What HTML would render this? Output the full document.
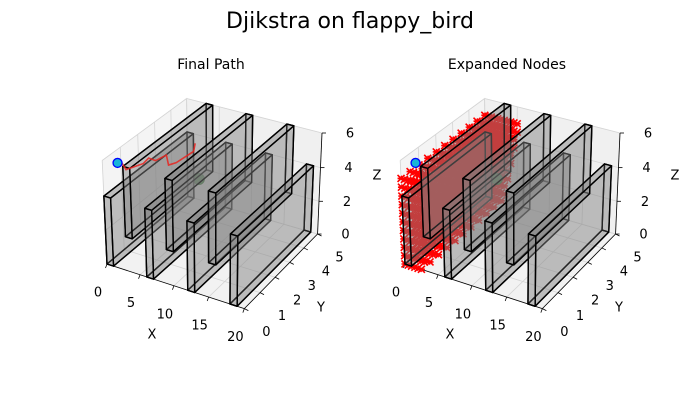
<!DOCTYPE html>
<html><head><meta charset="utf-8"><style>
html,body{margin:0;padding:0;background:#fff;}
svg{display:block;font-family:"DejaVu Sans","Liberation Sans",sans-serif;}
</style></head><body>
<svg id="chart" width="700" height="400" viewBox="0 0 700 400">
<rect width="700" height="400" fill="#fff"/>
<text x="350" y="28" font-size="22" text-anchor="middle" fill="#000">Djikstra on flappy_bird</text>
<text x="211" y="69" font-size="14" text-anchor="middle">Final Path</text>
<text x="507" y="69" font-size="14" text-anchor="middle">Expanded Nodes</text>
<g id="left"></g>
<g id="right"></g>
</svg>
<script>
const xTicks=[0,5,10,15,20];
const yTicks=[0,1,2,3,4,5];
const zTicks=[0,2,4,6];
const wallX=[0,3,6,9,12,15,18];
const wallZLow=[0,2,0,2,0,2,0];
const wallZHigh=[4,6,4,6,4,6,4];
const wallThick=1;
const pathX=[0.65,1.06,2.5,3.5,3.3,4.4,4.8,6.4,6.9,7.1,7.25,6.3,8.0];
const pathY=[0.58,0.66,0.35,0.94,1.33,1.29,1.77,1.25,1.5,2.04,2.4,2.9,2.4];
const pathZ=[5.5,5.5,5.5,5.5,5.5,5.5,5.5,5.5,5.5,5.5,5.5,5.5,4.0];
const startPt=[0.65,0.58,5.5];
const goalPt=[8.0,2.4,4.0];
const nodeZ=[0,0.5,1,1.5,2,2.5,3,3.5,4,4.5,5];
const nodeMaxX=[2.5,3,3,3.5,3.5,4,4,4.5,4.5,5,5];

const NS="http://www.w3.org/2000/svg";
const XL=[0,20],YL=[0,5],ZL=[0,6];
const n=Math.sqrt(41),K=1.8294640721620434;
const asp=[4/n*K,4/n*K,3/n*K];
const el=30*Math.PI/180,az=-60*Math.PI/180;
const wv=[Math.cos(el)*Math.cos(az),Math.cos(el)*Math.sin(az),Math.sin(el)];
const Rc=asp.map(v=>v/2);
const eye=Rc.map((v,i)=>v+10*wv[i]);
let uv=[-wv[1],wv[0],0];const ul=Math.hypot(uv[0],uv[1]);uv=uv.map(v=>v/ul);
const vv=[wv[1]*uv[2]-wv[2]*uv[1],wv[2]*uv[0]-wv[0]*uv[2],wv[0]*uv[1]-wv[1]*uv[0]];
function raw(x,y,z){
  const p=[(x-XL[0])/(XL[1]-XL[0])*asp[0],(y-YL[0])/(YL[1]-YL[0])*asp[1],(z-ZL[0])/(ZL[1]-ZL[0])*asp[2]];
  const d=p.map((v,i)=>v-eye[i]);
  const cx=d[0]*uv[0]+d[1]*uv[1]+d[2]*uv[2];
  const cy=d[0]*vv[0]+d[1]*vv[1]+d[2]*vv[2];
  const cz=d[0]*wv[0]+d[1]*wv[1]+d[2]*wv[2];
  return [cx/(-cz),cy/(-cz),-cz];
}
const A=raw(0,0,0),B=raw(20,5,6);
const sx=(322-107)/(B[0]-A[0]),sy=(133-264)/-(B[1]-A[1]);
function proj(x,y,z,dx){const r=raw(x,y,z);return [107+(r[0]-A[0])*sx+dx,264-(r[1]-A[1])*sy,r[2]];}

function mk(parent,tag,attrs){const e=document.createElementNS(NS,tag);for(const k in attrs)e.setAttribute(k,attrs[k]);parent.appendChild(e);return e;}
function poly(pts){return pts.map(p=>p[0].toFixed(2)+","+p[1].toFixed(2)).join(" ");}

function drawAxes(g,dx,showPath){
  const P=(x,y,z)=>proj(x,y,z,dx);
  let e;
  e=mk(g,"polygon",{points:poly([P(0,0,0),P(0,5,0),P(0,5,6),P(0,0,6)]),fill:"#f4f4f4",stroke:"#f4f4f4"});
  
  
  e=mk(g,"polygon",{points:poly([P(0,5,0),P(20,5,0),P(20,5,6),P(0,5,6)]),fill:"#f0f0f0",stroke:"#f0f0f0"});
  
  
  e=mk(g,"polygon",{points:poly([P(0,0,0),P(20,0,0),P(20,5,0),P(0,5,0)]),fill:"#f2f2f2",stroke:"#f2f2f2"});
  
  
  const gc="#d4d4d4";
  const line=(a,b,c,w,name)=>{const l=mk(g,"line",{x1:a[0],y1:a[1],x2:b[0],y2:b[1],stroke:c,"stroke-width":w});return l;};
  xTicks.forEach(t=>{line(P(t,0,0),P(t,5,0),gc,0.8,'x-gridline');line(P(t,5,0),P(t,5,6),gc,0.8,'x-gridline');});
  yTicks.forEach(t=>{line(P(0,t,0),P(20,t,0),gc,0.8,'y-gridline');line(P(0,t,0),P(0,t,6),gc,0.8,'y-gridline');});
  zTicks.forEach(t=>{line(P(0,0,t),P(0,5,t),gc,0.8,'z-gridline');line(P(0,5,t),P(20,5,t),gc,0.8,'z-gridline');});
  line(P(0,0,0),P(20,0,0),"#000",0.8,'x-axis-line');
  line(P(20,0,0),P(20,5,0),"#000",0.8,'y-axis-line');
  line(P(20,5,0),P(20,5,6),"#000",0.8,'z-axis-line');
  const txt=(p,s,name,fs)=>{const t=mk(g,"text",{x:p[0],y:p[1],"font-size":fs||13,"text-anchor":"middle","dominant-baseline":"central"});t.textContent=s;};
  xTicks.forEach(t=>{const p=P(t,0,0);line(p,[p[0]-1.5,p[1]+4],"#000",0.8,'x-tick');txt([p[0]-9,p[1]+29],String(t),'x-tick-label');});
  yTicks.forEach(t=>{const p=P(20,t,0);line(p,[p[0]+4,p[1]+2],"#000",0.8,'y-tick');txt([p[0]+22,p[1]+24],String(t),'y-tick-label');});
  zTicks.forEach(t=>{const p=P(20,5,t);line(p,[p[0]+4,p[1]],"#000",0.8,'z-tick');txt([p[0]+28,p[1]+1],String(t),'z-tick-label');});
  txt([152+dx,335],"X",'x-axis-title',13);
  txt([321+dx,308],"Y",'y-axis-title',13);
  txt([377+dx,176],"Z",'z-axis-title',13);

  if(!showPath){
    const ng=mk(g,"g",{stroke:"#ff0000","stroke-width":1.6});
    
    
    nodeZ.forEach((z,i)=>{
      for(let x=0;x<=nodeMaxX[i]+1e-9;x+=0.5){
        for(let y=0;y<=5+1e-9;y+=0.5){
          const p=P(x,y,z);
          const m=mk(ng,"path",{d:`M${p[0]-3.5},${p[1]-3.5}L${p[0]+3.5},${p[1]+3.5}M${p[0]-3.5},${p[1]+3.5}L${p[0]+3.5},${p[1]-3.5}M${p[0]-3.5},${p[1]}L${p[0]+3.5},${p[1]}`});
          
          
        }
      }
    });
  }
  const gp=P(goalPt[0],goalPt[1],goalPt[2]);
  const gcirc=mk(g,"circle",{cx:gp[0],cy:gp[1],r:5.5,fill:"#2e8b2e",stroke:"#1f6b1f","stroke-width":1});
  
  

  const faces=[];
  wallX.forEach((x0,i)=>{
    const x1=x0+wallThick,z0=wallZLow[i],z1=wallZHigh[i];
    const c=[[x0,0,z0],[x1,0,z0],[x1,5,z0],[x0,5,z0],[x0,0,z1],[x1,0,z1],[x1,5,z1],[x0,5,z1]];
    const F=[[0,1,2,3],[4,5,6,7],[0,1,5,4],[3,2,6,7],[0,3,7,4],[1,2,6,5]];
    F.forEach(f=>{
      const pts=f.map(k=>P(c[k][0],c[k][1],c[k][2]));
      const depth=pts.reduce((s,p)=>s+p[2],0)/4;
      faces.push({pts,depth});
    });
  });
  faces.sort((a,b)=>b.depth-a.depth);
  const wg=mk(g,"g",{});
  
  
  faces.forEach(f=>{
    const pg=mk(wg,"polygon",{points:poly(f.pts),fill:"#808080","fill-opacity":0.28,stroke:"#000","stroke-width":1.4,"stroke-linejoin":"round"});
    
    
  });
  if(showPath){
    const pts=pathX.map((x,i)=>P(x,pathY[i],pathZ[i]));
    const pl=mk(g,"polyline",{points:poly(pts.slice(0,-1)),fill:"none",stroke:"#e8231f","stroke-width":1.6,"stroke-opacity":0.85});
    
    
  }
  const sp=P(startPt[0],startPt[1],startPt[2]);
  const sc=mk(g,"circle",{cx:sp[0],cy:sp[1],r:4.5,fill:"#17b5d8",stroke:"#0000ff","stroke-width":1.3});
  
  
}
drawAxes(document.getElementById('left'),0,true);
drawAxes(document.getElementById('right'),298,false);
</script>
</body></html>
